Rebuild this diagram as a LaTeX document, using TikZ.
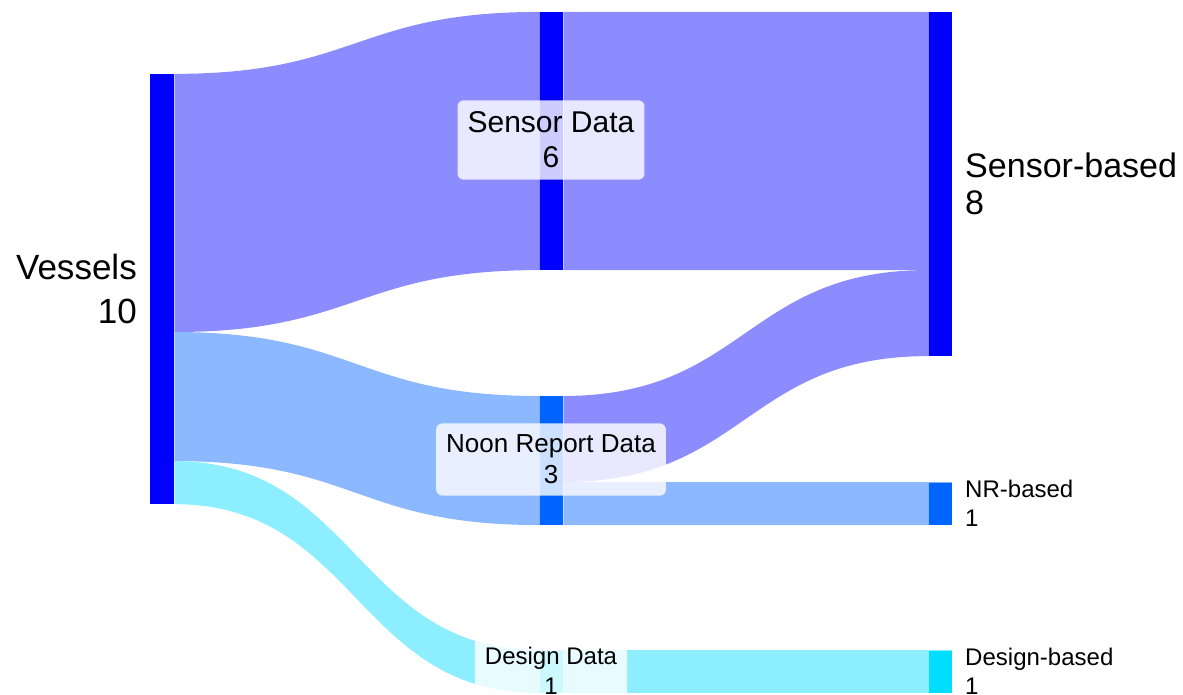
\documentclass[tikz,border=0pt]{standalone}
\usepackage{fontspec}
\setmainfont{Liberation Sans}
\usetikzlibrary{positioning,backgrounds,calc}
\definecolor{sensorblue}{RGB}{0,0,255}
\definecolor{noonblue}{RGB}{0,100,255}
\definecolor{designcyan}{RGB}{0,221,255}
\definecolor{sensorflow}{RGB}{140,140,255}
\definecolor{noonflow}{RGB}{140,184,255}
\definecolor{designflow}{RGB}{140,238,255}

\begin{document}
\begin{tikzpicture}[x=0.01cm, y=-0.01cm,
bar/.style={rectangle, minimum width=2.4mm, inner sep=0pt, outer sep=0pt,
draw=white, draw opacity=0.5, line width=0.1mm},
tag/.style={fill=white, fill opacity=0.8, text opacity=1, rounded corners=0.6mm,
inner xsep=1mm, inner ysep=1.15mm, align=center},
side/.style={inner sep=0pt, node distance=1.25mm}
]

\useasboundingbox (0,0) rectangle (1183,694);
\clip (0,0) rectangle (1183,694);

\node[bar, fill=sensorblue, minimum height=43mm] (ves) at (162,289) {};
\node[bar, fill=sensorblue, minimum height=25.8mm] (sd) at (551,141) {};
\node[bar, fill=noonblue, minimum height=12.9mm] (nrd) at (551,460.5) {};
\node[bar, fill=designcyan, minimum height=4.3mm] (dd) at (551,671.5) {};
\node[bar, fill=sensorblue, minimum height=34.4mm] (sb) at (940,184) {};
\node[bar, fill=noonblue, minimum height=4.3mm] (nrb) at (940,503.5) {};
\node[bar, fill=designcyan, minimum height=4.3mm] (db) at (940,671.5) {};

\coordinate (midA) at ($(ves.east)!0.5!(sd.west)$);
\coordinate (midB) at ($(sd.east)!0.5!(sb.west)$);
\coordinate (ves6) at ($(ves.north east)!0.6!(ves.south east)$);
\coordinate (ves9) at ($(ves.north east)!0.9!(ves.south east)$);
\coordinate (nrd2) at ($(nrd.north east)!0.6667!(nrd.south east)$);
\coordinate (sb6) at ($(sb.north west)!0.75!(sb.south west)$);

\begin{scope}[on background layer]
\fill[sensorflow] (ves.north east) .. controls (midA |- ves.north east) and (midA |- sd.north west) .. (sd.north west)
-- (sd.south west) .. controls (midA |- sd.south west) and (midA |- ves6) .. (ves6) -- cycle;
\fill[noonflow] (ves6) .. controls (midA |- ves6) and (midA |- nrd.north west) .. (nrd.north west)
-- (nrd.south west) .. controls (midA |- nrd.south west) and (midA |- ves9) .. (ves9) -- cycle;
\fill[designflow] (ves9) .. controls (midA |- ves9) and (midA |- dd.north west) .. (dd.north west)
-- (dd.south west) .. controls (midA |- dd.south west) and (midA |- ves.south east) .. (ves.south east) -- cycle;
\fill[sensorflow] (sd.north east) -- (sb.north west) -- (sb6) -- (sd.south east) -- cycle;
\fill[sensorflow] (nrd.north east) .. controls (midB |- nrd.north east) and (midB |- sb6) .. (sb6)
-- (sb.south west) .. controls (midB |- sb.south west) and (midB |- nrd2) .. (nrd2) -- cycle;
\fill[noonflow] (nrd2) -- (nrb.north west) -- (nrb.south west) -- (nrd.south east) -- cycle;
\fill[designflow] (dd.north east) -- (db.north west) -- (db.south west) -- (dd.south east) -- cycle;
\end{scope}

\node[side, left=of ves, align=right, font=\fontsize{3.5mm}{4.4mm}\selectfont] (veslabel) {Vessels\\10};
\node[side, right=of sb, align=left, font=\fontsize{3.4mm}{3.7mm}\selectfont] (sblabel) {Sensor-based\\8};
\node[side, right=of nrb, align=left, font=\fontsize{2.4mm}{2.9mm}\selectfont] (nrblabel) {NR-based\\1};
\node[side, right=of db, align=left, font=\fontsize{2.4mm}{2.9mm}\selectfont] (dblabel) {Design-based\\1};

\node[tag, font=\fontsize{3.0mm}{3.5mm}\selectfont] (sdlabel) at (551,140) {Sensor Data\\6};
\node[tag, font=\fontsize{2.6mm}{3.1mm}\selectfont] (nrdlabel) at (551,459.5) {Noon Report Data\\3};
\node[tag, font=\fontsize{2.4mm}{2.95mm}\selectfont] (ddlabel) at (551,671) {Design Data\\1};

\end{tikzpicture}
\end{document}
